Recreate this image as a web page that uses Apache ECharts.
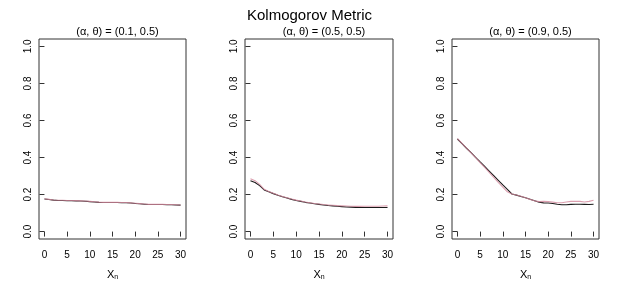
<!DOCTYPE html>
<html><head><meta charset="utf-8">
<script src="https://cdn.jsdelivr.net/npm/echarts@6/dist/echarts.min.js"></script>
<style>html,body{margin:0;padding:0;background:#fff}#c{width:619px;height:288px}</style>
</head><body><div id="c"></div>
<script>
const xs = [0,1,2,3,4,5,6,7,8,9,10,11,12,13,14,15,16,17,18,19,20,21,22,23,24,25,26,27,28,29,30];
const xTicks = [0,5,10,15,20,25,30];
const yTicks = [0,0.2,0.4,0.6,0.8,1.0];
const panelTitles = ['(α, θ) = (0.1, 0.5)','(α, θ) = (0.5, 0.5)','(α, θ) = (0.9, 0.5)'];
const mainTitle = 'Kolmogorov Metric';

const black1 = [0.176,0.173,0.170,0.168,0.168,0.167,0.167,0.166,0.165,0.164,0.162,0.160,0.158,0.157,0.157,0.157,0.157,0.156,0.156,0.154,0.152,0.150,0.148,0.146,0.146,0.146,0.146,0.145,0.145,0.144,0.143];
const pink1  = [0.177,0.174,0.171,0.169,0.169,0.168,0.168,0.167,0.166,0.165,0.163,0.161,0.159,0.158,0.158,0.158,0.158,0.157,0.157,0.155,0.153,0.151,0.149,0.147,0.147,0.147,0.147,0.146,0.146,0.145,0.144];
const black2 = [0.275,0.265,0.248,0.225,0.215,0.205,0.196,0.188,0.181,0.174,0.168,0.163,0.158,0.154,0.150,0.147,0.144,0.141,0.139,0.137,0.135,0.133,0.132,0.131,0.130,0.130,0.130,0.130,0.130,0.130,0.130];
const pink2  = [0.286,0.275,0.255,0.228,0.217,0.207,0.198,0.190,0.183,0.176,0.170,0.165,0.160,0.156,0.152,0.149,0.146,0.144,0.142,0.140,0.139,0.138,0.137,0.136,0.136,0.137,0.137,0.137,0.137,0.138,0.139];
const black3 = [0.500,0.475,0.450,0.426,0.401,0.376,0.352,0.327,0.302,0.277,0.252,0.228,0.203,0.197,0.190,0.183,0.175,0.167,0.159,0.155,0.154,0.152,0.148,0.145,0.145,0.147,0.148,0.148,0.147,0.146,0.148];
const pink3  = [0.502,0.476,0.451,0.425,0.399,0.373,0.347,0.320,0.293,0.266,0.240,0.215,0.203,0.198,0.191,0.183,0.174,0.166,0.162,0.163,0.162,0.159,0.156,0.156,0.160,0.163,0.164,0.163,0.160,0.163,0.169];

const blacks = [black1, black2, black3];
const pinks = [pink1, pink2, pink3];
const lefts = [39, 245, 452];
const widths = [147, 148, 147];
const FONT = 'Liberation Sans, Arial, Helvetica, sans-serif';

const chart = echarts.init(document.getElementById('c'), null, {renderer:'canvas'});
const grid = [], xAxis = [], yAxis = [], series = [], title = [];
title.push({text: mainTitle, left: 'center', top: 3, textStyle:{fontFamily:FONT, fontSize:15, fontWeight:'normal', color:'#000'}});
for (let i = 0; i < 3; i++) {
  grid.push({left: lefts[i], width: widths[i], top: 39, height: 200, show: true, borderColor: '#333', borderWidth: 1, backgroundColor: 'transparent'});
  title.push({text: panelTitles[i], left: lefts[i] + widths[i]/2, textAlign: 'center', top: 21,
    textStyle:{fontFamily:FONT, fontSize:11, fontWeight:'normal', color:'#000'}});
  xAxis.push({type:'value', gridIndex:i, min:-1.2, max:31.2,
    name: 'X{s|n}', nameLocation:'middle', nameGap: 29,
    nameTextStyle:{fontFamily:FONT, fontSize:11, color:'#000', rich:{s:{fontSize:7, verticalAlign:'bottom', padding:[6,0,0,0], fontFamily:FONT, color:'#000'}}},
    axisLine:{show:false}, splitLine:{show:false},
    axisTick:{show:true, inside:false, length:5, lineStyle:{color:'#333'}, customValues: xTicks},
    axisLabel:{fontFamily:FONT, fontSize:10, color:'#000', margin:11, customValues: xTicks}});
  yAxis.push({type:'value', gridIndex:i, min:-0.04, max:1.04,
    axisLine:{show:false}, splitLine:{show:false},
    axisTick:{show:true, inside:false, length:5, lineStyle:{color:'#333'}, customValues: yTicks},
    axisLabel:{fontFamily:FONT, fontSize:10, color:'#000', margin:6, rotate:90, customValues: yTicks,
      formatter: v => v.toFixed(1)}});
  series.push({type:'line', xAxisIndex:i, yAxisIndex:i, data: xs.map((x,k)=>[x, blacks[i][k]]),
    showSymbol:false, lineStyle:{color:'#1a1a1a', width:1.1}, silent:true, animation:false});
  series.push({type:'line', xAxisIndex:i, yAxisIndex:i, data: xs.map((x,k)=>[x, pinks[i][k]]),
    showSymbol:false, lineStyle:{color:'rgba(210,135,155,0.8)', width:1.1}, silent:true, animation:false});
}
chart.setOption({animation:false, title, grid, xAxis, yAxis, series});
</script></body></html>
